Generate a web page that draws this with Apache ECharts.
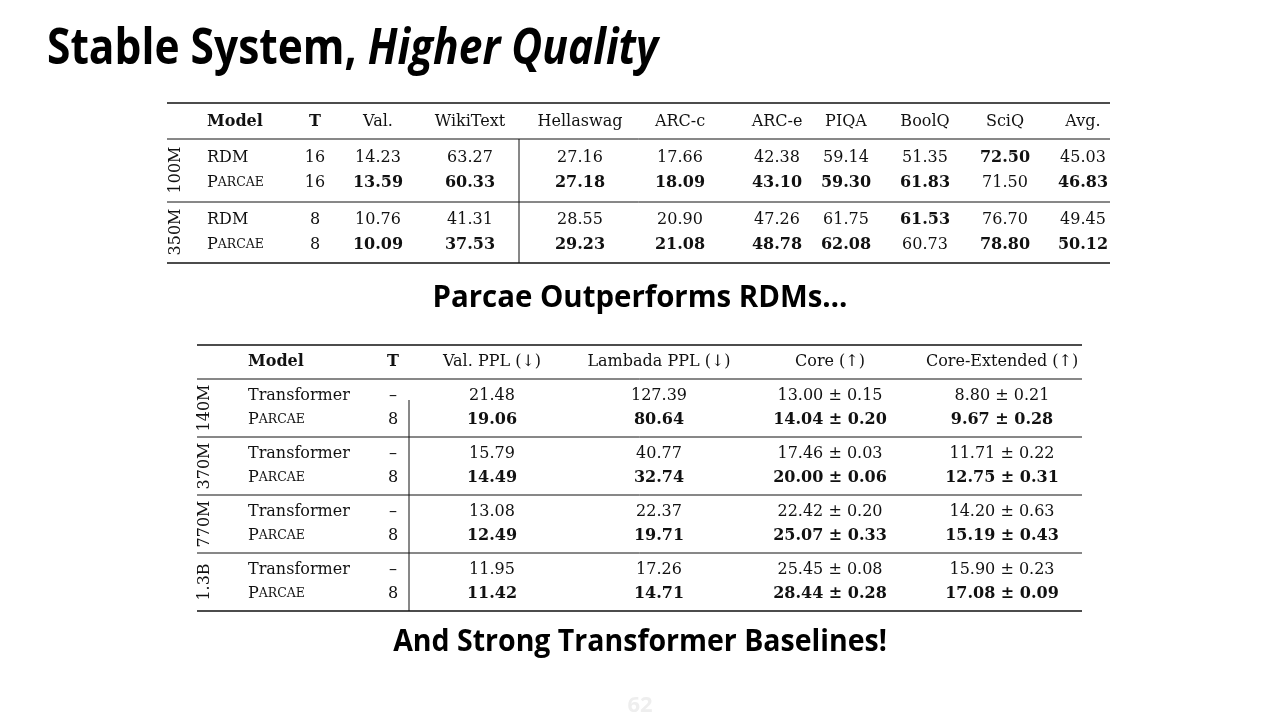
<!DOCTYPE html><html><head><meta charset="utf-8"><script src="https://cdn.jsdelivr.net/npm/echarts@6/dist/echarts.min.js"></script>
<style>html,body{margin:0;background:#fff}#c{width:1280px;height:720px}</style></head><body><div id="c"></div><script>
const t1Header=['Model','T','Val.','WikiText','Hellaswag','ARC-c','ARC-e','PIQA','BoolQ','SciQ','Avg.'];
const t1Groups=['100M','350M'];
const t1Rows=[
 ['RDM','16','14.23','63.27','27.16','17.66','42.38','59.14','51.35','*72.50','45.03'],
 ['Parcae','16','*13.59','*60.33','*27.18','*18.09','*43.10','*59.30','*61.83','71.50','*46.83'],
 ['RDM','8','10.76','41.31','28.55','20.90','47.26','61.75','*61.53','76.70','49.45'],
 ['Parcae','8','*10.09','*37.53','*29.23','*21.08','*48.78','*62.08','60.73','*78.80','*50.12']];
const t2Header=['Model','T','Val. PPL (↓)','Lambada PPL (↓)','Core (↑)','Core-Extended (↑)'];
const t2Groups=['140M','370M','770M','1.3B'];
const t2Rows=[
 ['Transformer','–','21.48','127.39','13.00 ± 0.15','8.80 ± 0.21'],
 ['Parcae','8','*19.06','*80.64','*14.04 ± 0.20','*9.67 ± 0.28'],
 ['Transformer','–','15.79','40.77','17.46 ± 0.03','11.71 ± 0.22'],
 ['Parcae','8','*14.49','*32.74','*20.00 ± 0.06','*12.75 ± 0.31'],
 ['Transformer','–','13.08','22.37','22.42 ± 0.20','14.20 ± 0.63'],
 ['Parcae','8','*12.49','*19.71','*25.07 ± 0.33','*15.19 ± 0.43'],
 ['Transformer','–','11.95','17.26','25.45 ± 0.08','15.90 ± 0.23'],
 ['Parcae','8','*11.42','*14.71','*28.44 ± 0.28','*17.08 ± 0.09']];
const SER='"DejaVu Serif", serif', FS=16;
const els=[];
function txt(x,y,s,align,bold,size){
 if(s==='Parcae'){
  els.push({type:'text',x:x,y:y,style:{text:'{a|P}{b|ARCAE}',textAlign:align,textVerticalAlign:'middle',
   rich:{a:{fontFamily:SER,fontSize:size||FS,fill:'#111'},b:{fontFamily:SER,fontSize:(size||FS)*0.78,fill:'#111'}}}});return;}
 let b=bold; if(s[0]==='*'){b=true;s=s.slice(1);}
 els.push({type:'text',x:x,y:y,style:{text:s,textAlign:align,textVerticalAlign:'middle',fontFamily:SER,fontSize:size||FS,fontWeight:b?'bold':'normal',fill:'#111'}});
}
function line(x1,y1,x2,y2,w){els.push({type:'line',shape:{x1,y1,x2,y2},style:{stroke:'#111',lineWidth:w||1}});}
const c1=[207,315,378,470,580,680,777,846,925,1005,1083];
[103,263].forEach(y=>line(167,y,1110,y,1.6));[139,202].forEach(y=>line(167,y,1110,y,1));
line(519,139,519,263,1);
t1Header.forEach((h,i)=>txt(c1[i],122,h,i===0?'left':'center',i<2));
const r1=[158,183,220,245];
t1Rows.forEach((r,k)=>r.forEach((v,i)=>txt(c1[i],r1[k],v,i===0?'left':'center',false)));
t1Groups.forEach((g,k)=>els.push({type:'text',x:176,y:[170,232][k],rotation:Math.PI/2,style:{text:g,textAlign:'center',textVerticalAlign:'middle',fontFamily:SER,fontSize:FS,fill:'#111'}}));
const c2=[248,393,492,659,830,1002];
[345,611].forEach(y=>line(197,y,1082,y,1.6));[379,437,495,553].forEach(y=>line(197,y,1082,y,1));
line(409,400,409,611,1);
t2Header.forEach((h,i)=>txt(c2[i],362,h,i===0?'left':'center',i<2));
const r2=[396,420,454,478,512,536,570,594];
t2Rows.forEach((r,k)=>r.forEach((v,i)=>txt(c2[i],r2[k],v,i===0?'left':'center',false)));
t2Groups.forEach((g,k)=>els.push({type:'text',x:205,y:408+58*k,rotation:Math.PI/2,style:{text:g,textAlign:'center',textVerticalAlign:'middle',fontFamily:SER,fontSize:FS,fill:'#111'}}));
const SANS='"Open Sans",sans-serif';
els.push({type:'text',x:47,y:50,scaleX:0.85,style:{text:'{a|Stable System, }{b|Higher Quality}',textVerticalAlign:'middle',
 rich:{a:{fontFamily:SANS,fontSize:50,fontWeight:'bold',fill:'#000'},b:{fontFamily:SANS,fontSize:50,fontWeight:'bold',fontStyle:'italic',fill:'#000'}}}});
els.push({type:'text',x:640,y:298,scaleX:0.98,style:{text:'Parcae Outperforms RDMs…',textAlign:'center',textVerticalAlign:'middle',fontFamily:SANS,fontSize:30,fontWeight:'bold',fill:'#000'}});
els.push({type:'text',x:640,y:642,scaleX:0.95,style:{text:'And Strong Transformer Baselines!',textAlign:'center',textVerticalAlign:'middle',fontFamily:SANS,fontSize:30,fontWeight:'bold',fill:'#000'}});
els.push({type:'text',x:640,y:706,style:{text:'62',textAlign:'center',textVerticalAlign:'middle',fontFamily:SANS,fontSize:22,fontWeight:'bold',fill:'#eee'}});
const ch=echarts.init(document.getElementById('c'));
ch.setOption({backgroundColor:'#fff',animation:false,graphic:{elements:els}});
</script></body></html>
